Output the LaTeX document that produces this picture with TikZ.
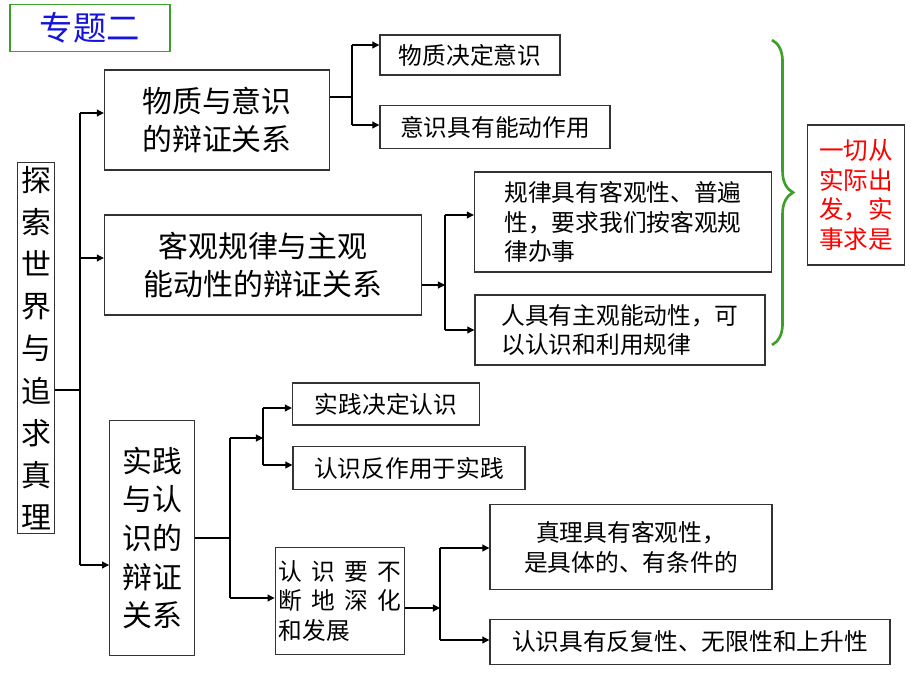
\documentclass[tikz,border=0pt]{standalone}
\usepackage{fontspec}
\newfontfamily\cjk{Noto Sans CJK SC}
\XeTeXlinebreaklocale "zh"
\XeTeXlinebreakskip=0pt plus 1pt
\usetikzlibrary{arrows.meta,decorations.pathreplacing}
\definecolor{bracegreen}{RGB}{60,160,40}
\definecolor{titleblue}{RGB}{20,20,220}
\tikzset{
	box/.style={draw=black!80,line width=0.8pt,fill=white,inner sep=2pt,align=left},
	big/.style={box,font=\cjk\fontsize{17}{22}\selectfont,align=center},
	small/.style={box,font=\cjk\fontsize{13.5}{17}\selectfont},
	arr/.style={-{Triangle[length=4pt,width=4pt]},line width=0.6pt},
	ln/.style={line width=0.6pt}
}
\begin{document}
\begin{tikzpicture}[x=0.02cm,y=-0.02cm]
	\useasboundingbox (0,0) rectangle (920,690);
	% title and main boxes
	\node[draw=bracegreen,line width=0.8pt,minimum width=160*0.02cm,minimum height=47*0.02cm,font=\cjk\fontsize{19}{22}\selectfont,text=titleblue] (title) at (90,28) {专题二};
	\node[big,text width=0.6cm,minimum height=355*0.02cm,font=\cjk\fontsize{17}{24}\selectfont] (root) at (36,348) {探\\索\\世\\界\\与\\追\\求\\真\\理};
	\node[big,minimum width=225*0.02cm,minimum height=100*0.02cm] (matter) at (217,120) {物质与意识\\的辩证关系};
	\node[big,minimum width=317*0.02cm,minimum height=100*0.02cm] (law) at (263,265) {客观规律与主观\\能动性的辩证关系};
	\node[big,text width=1.55cm,minimum height=235*0.02cm] (prac) at (152,538) {实践\\与认\\识的\\辩证\\关系};

	% second column
	\node[small,minimum width=180*0.02cm,minimum height=40*0.02cm] (m1) at (470,55) {物质决定意识};
	\node[small,minimum width=230*0.02cm,minimum height=43*0.02cm] (m2) at (495,127) {意识具有能动作用};
	\node[small,minimum width=297*0.02cm,minimum height=100*0.02cm] (l1) at (623,222) {规律具有客观性、普遍\\性，要求我们按客观规\\律办事};
	\node[small,minimum width=290*0.02cm,minimum height=70*0.02cm] (l2) at (620,330) {人具有主观能动性，可\\以认识和利用规律};
	\node[small,minimum width=187*0.02cm,minimum height=42*0.02cm] (p1) at (386,404) {实践决定认识};
	\node[small,minimum width=232*0.02cm,minimum height=43*0.02cm] (p2) at (409,468) {认识反作用于实践};
	\node[small,text width=2.45cm,minimum height=107*0.02cm] (p3) at (340,601) {认\hfill 识\hfill 要\hfill 不\\断\hfill 地\hfill 深\hfill 化\\和发展};
	\node[small,minimum width=282*0.02cm,minimum height=85*0.02cm,align=center] (t1) at (631,547) {真理具有客观性，\\是具体的、有条件的};
	\node[small,minimum width=400*0.02cm,minimum height=45*0.02cm] (t2) at (690,642) {认识具有反复性、无限性和上升性};

	% red conclusion and brace
	\node[draw=black!80,line width=0.8pt,text=red,font=\cjk\fontsize{14}{17}\selectfont,align=center,minimum width=97*0.02cm,minimum height=140*0.02cm] (sum) at (856,195) {一切从\\实际出\\发，实\\事求是};
	\draw[bracegreen,line width=1.5pt,decorate,decoration={brace,amplitude=12pt}] (772,40) -- (772,345);

	% connectors
	\coordinate (r0) at (80,390);
	\draw[ln] (root.east |- r0) -- (r0);
	\draw[ln] (80,113) -- (80,565);
	\draw[arr] (80,113) -- (matter.west |- 0,113);
	\draw[arr] (80,258) -- (law.west |- 0,258);
	\draw[arr] (80,565) -- (prac.west |- 0,565);

	\draw[ln] (matter.east |- 0,97) -- (352,97);
	\draw[ln] (352,45) -- (352,125);
	\draw[arr] (352,45) -- (m1.west |- 0,45);
	\draw[arr] (352,125) -- (m2.west |- 0,125);

	\draw[arr] (law.east |- 0,285) -- (445,285);
	\draw[ln] (445,215) -- (445,330);
	\draw[arr] (445,215) -- (l1.west |- 0,215);
	\draw[arr] (445,330) -- (l2.west |- 0,330);

	\draw[ln] (prac.east |- 0,538) -- (230,538);
	\draw[ln] (230,438) -- (230,598);
	\draw[arr] (230,438) -- (263,438);
	\draw[ln] (263,408) -- (263,465);
	\draw[arr] (263,408) -- (p1.west |- 0,408);
	\draw[arr] (263,465) -- (p2.west |- 0,465);
	\draw[arr] (230,598) -- (p3.west |- 0,598);

	\draw[arr] (p3.east |- 0,608) -- (440,608);
	\draw[ln] (440,548) -- (440,640);
	\draw[arr] (440,548) -- (t1.west |- 0,548);
	\draw[arr] (440,640) -- (t2.west |- 0,640);
\end{tikzpicture}
\end{document}
